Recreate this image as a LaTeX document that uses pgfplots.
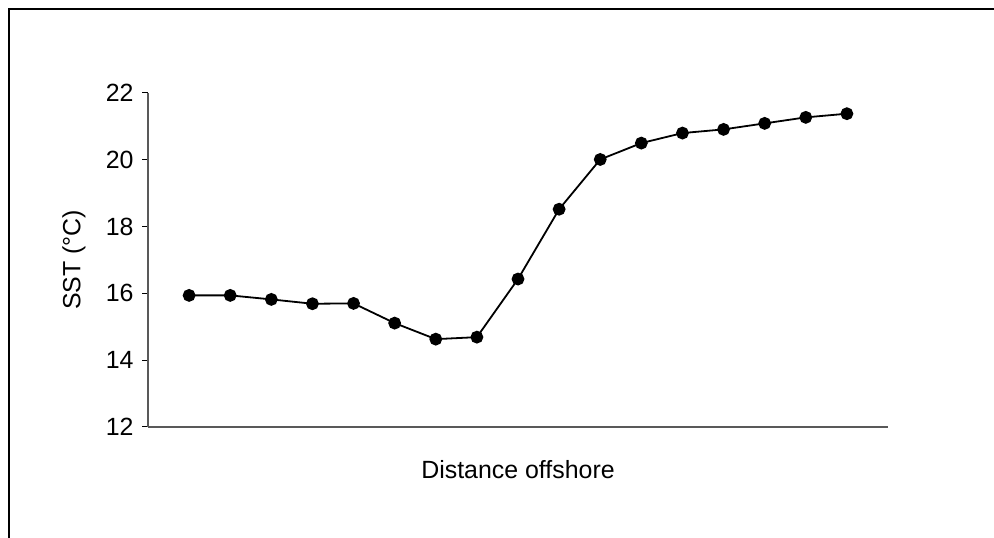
\documentclass[border=0pt]{standalone}
\usepackage{fontspec}
\setmainfont{Liberation Sans}
\usepackage{pgfplots}
\pgfplotsset{compat=1.18}
\begin{document}
\begin{tikzpicture}[x=1bp,y=1bp]
\useasboundingbox (0,0) rectangle (994,538);
\draw[line width=2bp] (9,0) -- (9,529) -- (994,529);
\begin{axis}[
  at={(148bp,111bp)}, anchor=south west,
  scale only axis, width=740bp, height=334bp,
  xmin=0, xmax=18, ymin=12, ymax=22,
  axis x line*=bottom, axis y line*=left,
  xtick=\empty, ytick={12,14,16,18,20,22},
  tick align=outside, major tick length=6bp,
  tick style={black, line width=1bp},
  axis line style={black!65, line width=1.3bp},
  /pgf/number format/assume math mode=true,
  tick label style={font=\fontsize{25}{30}\selectfont},
  y tick label style={xshift=-5bp},
  label style={font=\fontsize{25}{30}\selectfont},
  xlabel={Distance offshore},
  ylabel={SST (°C)},
  xlabel style={at={(axis description cs:0.5,-0.129)}, anchor=center},
  ylabel style={at={(axis description cs:-0.1,0.5)}, anchor=center},
  clip=false,
]
\addplot[black, line width=1.8bp, mark=*, mark size=5.5bp, mark options={fill=black}] coordinates {
(1,15.94) (2,15.94) (3,15.82) (4,15.69) (5,15.70) (6,15.11) (7,14.63) (8,14.69)
(9,16.43) (10,18.52) (11,20.01) (12,20.50) (13,20.80) (14,20.91) (15,21.09) (16,21.27) (17,21.38)
};
\end{axis}
\end{tikzpicture}
\end{document}
